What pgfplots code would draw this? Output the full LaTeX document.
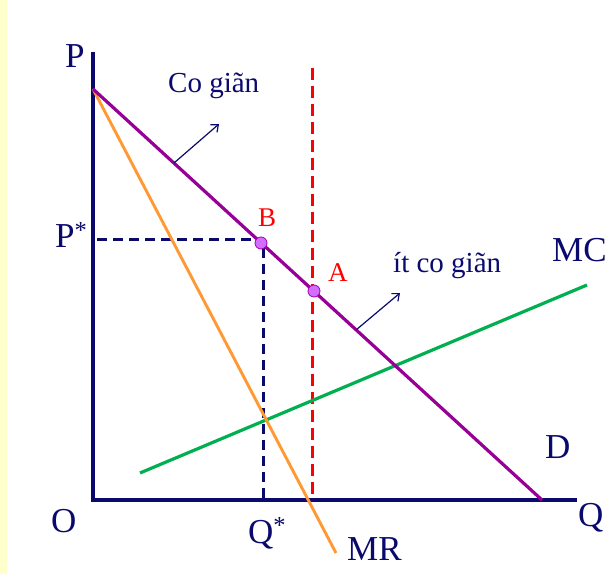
\documentclass[border=0pt]{standalone}
\usepackage{pgfplots}
\pgfplotsset{compat=1.18}
\usepackage{fontspec}
\setmainfont{Liberation Serif}
\usetikzlibrary{arrows.meta}
\definecolor{navyt}{RGB}{10,10,110}
\definecolor{dpurple}{RGB}{150,0,150}
\definecolor{mrorange}{RGB}{255,153,51}
\definecolor{mcgreen}{RGB}{0,176,80}
\definecolor{ptfill}{RGB}{210,110,255}
\definecolor{paleyellow}{RGB}{255,255,204}
\begin{document}
\begin{tikzpicture}
\begin{axis}[
  width=614pt, height=574pt, scale only axis,
  xmin=-93, xmax=521, ymin=-74, ymax=500,
  axis lines=none, clip=false,
]
% background
\fill[white] (axis cs:-93,-74) rectangle (axis cs:521,500);
\fill[paleyellow] (axis cs:-93,-74) rectangle (axis cs:-86,500);
% axes
\addplot[navyt, line width=3.5pt, line join=miter] coordinates {(0,448) (0,0) (484,0)};
% P* / Q* dashed
\addplot[navyt, line width=3pt, dash pattern=on 10pt off 6pt] coordinates {(4,260) (170,260)};
\addplot[navyt, line width=3pt, dash pattern=on 10pt off 6pt] coordinates {(170,252) (170,0)};
% red dashed
\addplot[red, line width=3pt, dash pattern=on 12pt off 6pt] coordinates {(219,432) (219,0)};
% MC
\addplot[mcgreen, line width=3.2pt] coordinates {(47,27) (494,215)};
% MR
\addplot[mrorange, line width=2.9pt] coordinates {(0,411) (243,-53)};
% D
\addplot[dpurple, line width=3.2pt] coordinates {(0,411) (449,0)};
% arrows
\addplot[navyt, line width=1.2pt, -{Straight Barb[length=6pt,width=10pt]}] coordinates {(81,337) (126,376)};
\addplot[navyt, line width=1.2pt, -{Straight Barb[length=6pt,width=10pt]}] coordinates {(263,170) (307,207)};
% points
\addplot[only marks, mark=*, mark size=6pt, mark options={fill=ptfill, draw=violet!70!magenta, line width=0.8pt}] coordinates {(168,257) (221,209)};
% labels
\node[anchor=base west, text=navyt, font=\fontsize{35}{38}\selectfont, inner sep=0pt] at (axis cs:-28,432) {P};
\node[anchor=base west, text=navyt, font=\fontsize{35}{38}\selectfont, inner sep=0pt] at (axis cs:-42,-32) {O};
\node[anchor=base west, text=navyt, font=\fontsize{35}{38}\selectfont, inner sep=0pt] at (axis cs:485,-26) {Q};
\node[anchor=base west, text=navyt, font=\fontsize{35}{38}\selectfont, inner sep=0pt] at (axis cs:-38,252) {P\textsuperscript{*}};
\node[anchor=base west, text=navyt, font=\fontsize{35}{38}\selectfont, inner sep=0pt] at (axis cs:155,-43) {Q\textsuperscript{*}};
\node[anchor=base west, text=navyt, font=\fontsize{35}{38}\selectfont, inner sep=0pt] at (axis cs:254,-60) {MR};
\node[anchor=base west, text=navyt, font=\fontsize{35}{38}\selectfont, inner sep=0pt] at (axis cs:459,238) {MC};
\node[anchor=base west, text=navyt, font=\fontsize{35}{38}\selectfont, inner sep=0pt] at (axis cs:452,41) {D};
\node[anchor=base west, text=navyt, font=\fontsize{29}{32}\selectfont, inner sep=0pt] at (axis cs:75,407) {Co giãn};
\node[anchor=base west, text=navyt, font=\fontsize{29}{32}\selectfont, inner sep=0pt] at (axis cs:300,227) {ít co giãn};
\node[anchor=base west, text=red, font=\fontsize{27}{30}\selectfont, inner sep=0pt] at (axis cs:165,273) {B};
\node[anchor=base west, text=red, font=\fontsize{27}{30}\selectfont, inner sep=0pt] at (axis cs:235,218) {A};
\end{axis}
\end{tikzpicture}
\end{document}
